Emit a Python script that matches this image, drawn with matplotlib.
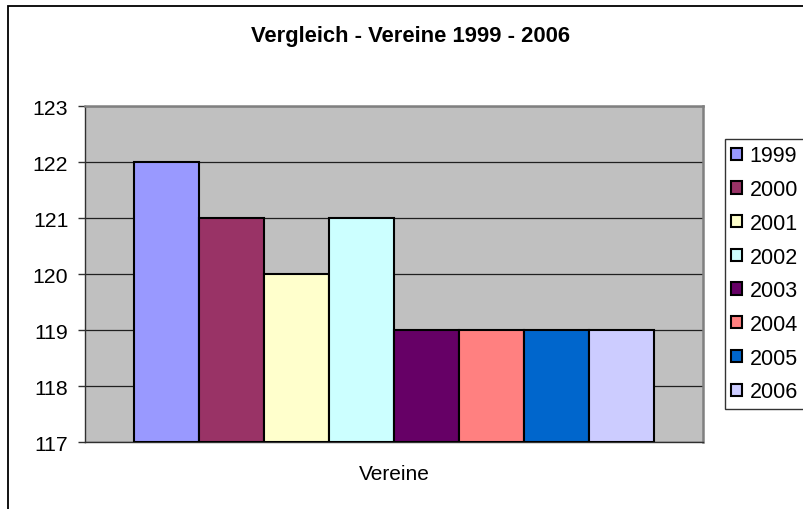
import matplotlib
matplotlib.use("Agg")
import matplotlib.pyplot as plt
from matplotlib.patches import Rectangle
import numpy as np

plt.rcParams['font.family'] = ['Liberation Sans', 'DejaVu Sans']

title = "Vergleich - Vereine 1999 - 2006"
category = "Vereine"
years = ["1999", "2000", "2001", "2002", "2003", "2004", "2005", "2006"]
values = [122, 121, 120, 121, 119, 119, 119, 119]
colors = ["#9999FF", "#993366", "#FFFFCC", "#CCFFFF", "#660066", "#FF8080", "#0066CC", "#CCCCFF"]
y_ticks = [117, 118, 119, 120, 121, 122, 123]

W, H = 804, 510
fig = plt.figure(figsize=(W / 100, H / 100), dpi=100)
fig.patch.set_facecolor('white')

# outer chart border (extends beyond right/bottom of the image)
fig.patches.append(Rectangle((8 / W, -0.1), 1.2, (H - 7) / H + 0.1, transform=fig.transFigure,
                             fill=False, ec='black', lw=1.3, zorder=0))

left, right, top, bottom = 85, 703, 107, 443
ax = fig.add_axes([left / W, (H - bottom) / H, (right - left) / W, (bottom - top) / H])
ax.set_facecolor('#C0C0C0')

ymin, ymax = y_ticks[0], y_ticks[-1]
n = len(values)
w = 1 / (n + 1.5)
xs = -0.5 + w * (0.75 + np.arange(n) + 0.5)
bars = []
for i in range(n):
    b = ax.bar(xs[i], values[i] - ymin, bottom=ymin, width=w, color=colors[i],
               edgecolor='black', linewidth=1.5, label=years[i], zorder=3)
    bars.append(b)

ax.set_xlim(-0.5, 0.5)
ax.set_ylim(ymin, ymax)
ax.set_yticks(y_ticks)
ax.set_yticklabels([str(t) for t in y_ticks], fontsize=15.3)
ax.tick_params(axis='y', direction='out', length=5, width=1, color='#303030', pad=7)
ax.set_xticks([])
ax.yaxis.grid(True, color='#202020', linewidth=0.9, zorder=1)
ax.set_axisbelow(True)

for s in ['top', 'right']:
    ax.spines[s].set_color('#808080')
    ax.spines[s].set_linewidth(1.8)
for s in ['left', 'bottom']:
    ax.spines[s].set_color('#303030')
    ax.spines[s].set_linewidth(1.0)

ax.set_xlabel(category, fontsize=15)
ax.xaxis.set_label_coords(0.5, -0.066)

fig.text(411 / W, 1 - 42 / H, title, fontsize=15.8, fontweight='bold', ha='center', va='baseline')

leg = ax.legend(handles=[b[0] for b in bars], labels=years, loc='upper left',
                bbox_to_anchor=(725 / W, 1 - 140 / H, 110 / W, 0.0), bbox_transform=fig.transFigure,
                mode='expand',
                fontsize=15.5, frameon=True, fancybox=False, edgecolor='black',
                handlelength=0.5, handleheight=0.5, handletextpad=0.35,
                labelspacing=0.59, borderpad=0.3, borderaxespad=0)
leg.get_frame().set_linewidth(1.0)
for h in leg.legend_handles:
    h.set_linewidth(1.5)

fig.savefig("out.png", dpi=100)
